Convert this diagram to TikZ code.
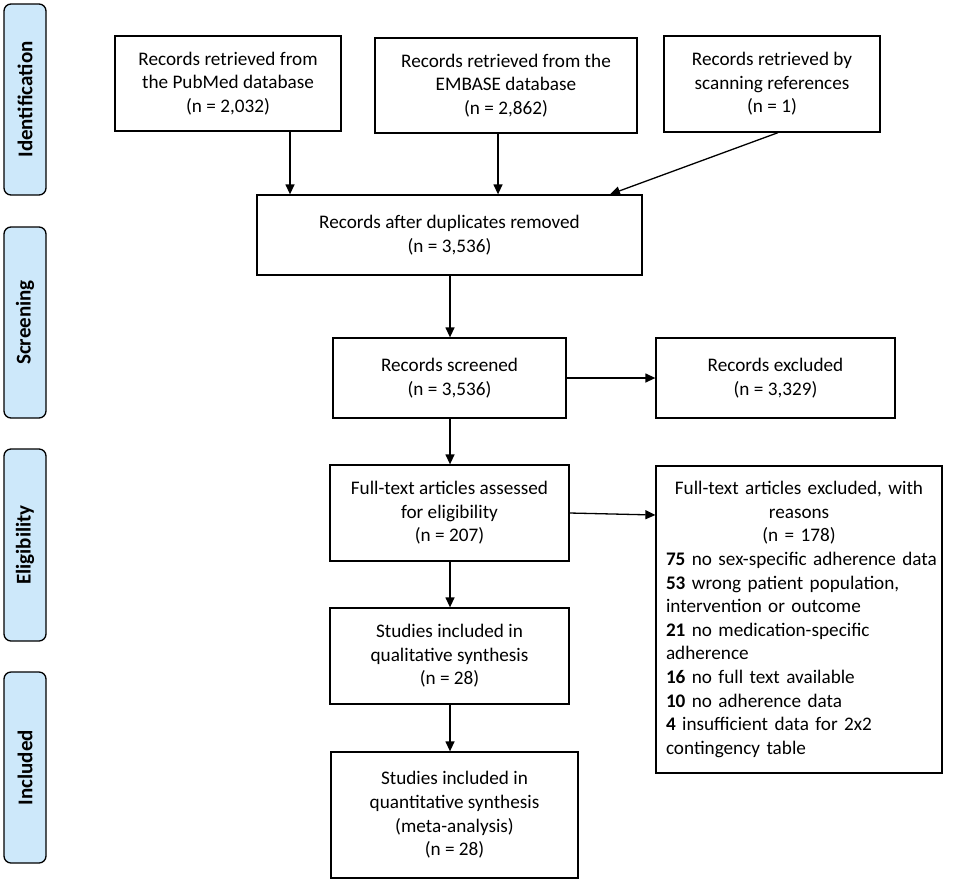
\documentclass[tikz,border=0pt]{standalone}
\usepackage{fontspec}
\setmainfont{Carlito}
\usetikzlibrary{arrows.meta}
\definecolor{sideblue}{RGB}{205,232,250}
\begin{document}
\begin{tikzpicture}[x=1pt,y=-1pt,
  box/.style={draw, line width=1.3pt, align=center, inner sep=0pt,
    font=\fontsize{19.2}{23.6}\selectfont},
  side/.style={draw, line width=1.3pt, fill=sideblue, rounded corners=7pt,
    rotate=90, inner sep=0pt, minimum height=42pt,
    font=\fontsize{21}{24}\selectfont\bfseries},
  arr/.style={line width=1.3pt, -{Triangle[length=10pt,width=9pt]}}]
\useasboundingbox (0,0) rectangle (957,884);
% side labels
\node[side, minimum width=191pt] (sid) at (25,99.5) {Identification};
\node[side, minimum width=191pt] (ssc) at (25,322.5) {Screening};
\node[side, minimum width=192pt] (sel) at (25,545) {Eligibility};
\node[side, minimum width=191pt] (sin) at (25,767.5) {Included};
% boxes
\node[box, minimum width=226pt, minimum height=95pt] (pub) at (228,83.5)
  {Records retrieved from\\the PubMed database\\(n = 2,032)};
\node[box, minimum width=262pt, minimum height=95pt] (emb) at (506,85.5)
  {Records retrieved from the\\EMBASE database\\(n = 2,862)};
\node[box, minimum width=216pt, minimum height=96pt] (scan) at (772,84)
  {Records retrieved by\\scanning references\\(n = 1)};
\node[box, minimum width=385pt, minimum height=80pt] (dup) at (449.5,235)
  {Records after duplicates removed\\(n = 3,536)};
\node[box, minimum width=233pt, minimum height=80pt] (scr) at (449.5,378)
  {Records screened\\(n = 3,536)};
\node[box, minimum width=239pt, minimum height=80pt] (exc) at (775.5,378)
  {Records excluded\\(n = 3,329)};
\node[box, minimum width=239pt, minimum height=96pt] (ft) at (449.5,513)
  {Full-text articles assessed\\for eligibility\\(n = 207)};
\node[box, align=left, text width=266pt, inner xsep=10pt, minimum height=307pt] (ftx) at (799,619.5)
  {\makebox[\linewidth][c]{Full-text articles excluded, with}\\
   \makebox[\linewidth][c]{reasons}\\
   \makebox[\linewidth][c]{(n = 178)}\\
   \makebox[\linewidth][l]{\textbf{75} no sex-specific adherence data}\\
   \makebox[\linewidth][l]{\textbf{53} wrong patient population,}\\
   \makebox[\linewidth][l]{intervention or outcome}\\
   \makebox[\linewidth][l]{\textbf{21} no medication-specific}\\
   \makebox[\linewidth][l]{adherence}\\
   \makebox[\linewidth][l]{\textbf{16} no full text available}\\
   \makebox[\linewidth][l]{\textbf{10} no adherence data}\\
   \makebox[\linewidth][l]{\textbf{4} insufficient data for 2x2}\\
   \makebox[\linewidth][l]{contingency table}};
\node[box, minimum width=239pt, minimum height=96pt] (qual) at (449.5,656)
  {Studies included in\\qualitative synthesis\\(n = 28)};
\node[box, minimum width=247pt, minimum height=126pt] (quant) at (454.5,815)
  {Studies included in\\quantitative synthesis\\(meta-analysis)\\(n = 28)};
% helper coordinates
\coordinate (xa) at (290,0);
\coordinate (xb) at (498,0);
\coordinate (xc) at (450,0);
\coordinate (sa) at (778,0);
\coordinate (da) at (610,0);
\coordinate (fa) at (0,513);
\coordinate (fb) at (0,515);
% connectors
\draw[arr] (xa |- pub.south) -- (xa |- dup.north);
\draw[arr] (xb |- emb.south) -- (xb |- dup.north);
\draw[arr] (sa |- scan.south) -- (da |- dup.north);
\draw[arr] (xc |- dup.south) -- (xc |- scr.north);
\draw[arr] (scr.east) -- (exc.west);
\draw[arr] (xc |- scr.south) -- (xc |- ft.north);
\draw[arr] (ft.east |- fa) -- (ftx.west |- fb);
\draw[arr] (xc |- ft.south) -- (xc |- qual.north);
\draw[arr] (xc |- qual.south) -- (xc |- quant.north);
\end{tikzpicture}
\end{document}
